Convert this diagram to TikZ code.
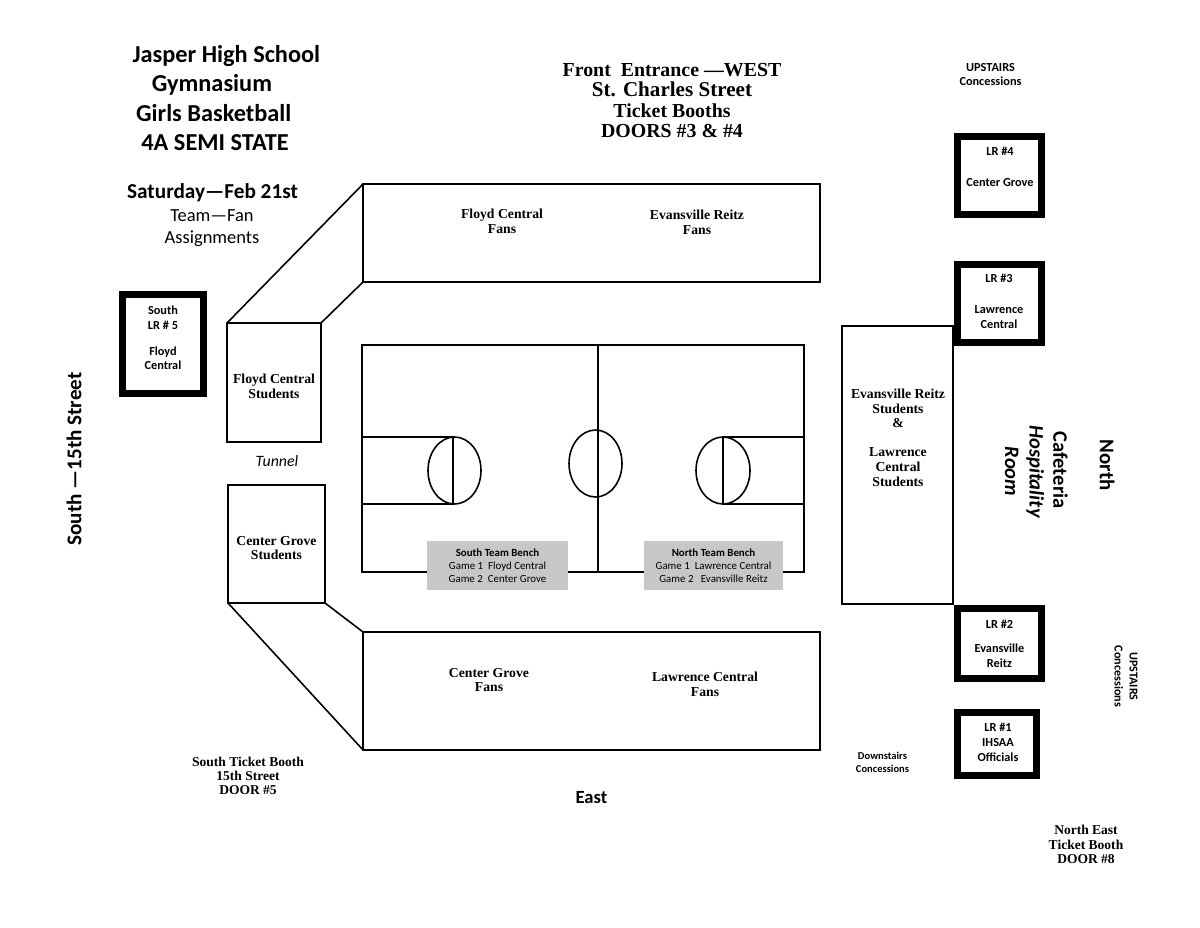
\documentclass[tikz,border=0pt]{standalone}
\usepackage{fontspec}
\setmainfont{Carlito}
\newfontfamily\timesbold{Liberation Serif}
\usetikzlibrary{positioning,shapes.geometric}

\tikzset{
  stand/.style={draw,line width=0.9pt,outer sep=0pt,inner sep=0pt},
  lrroom/.style={draw,line width=4pt,outer sep=0pt,inner sep=0pt},
  lrtext/.style={align=center,inner sep=0pt,font=\fontsize{7}{8.5}\selectfont\bfseries},
  bench/.style={fill=black!22,outer sep=0pt,inner sep=0pt,align=center,minimum height=0.98cm,
    font=\fontsize{6.2}{7.3}\selectfont},
  fans/.style={align=center,font=\fontsize{7.8}{8.4}\selectfont\timesbold\bfseries},
  booth/.style={align=center,font=\fontsize{7.7}{8.1}\selectfont\timesbold\bfseries},
  courtline/.style={line width=0.9pt},
  sidetext/.style={align=center,rotate=-90}
}

\begin{document}
\begin{tikzpicture}[x=0.02cm,y=-0.02cm]
  \useasboundingbox (0,0) rectangle (1200,927);

  % headings
  \node[align=left,font=\fontsize{13.85}{16.7}\selectfont\bfseries,anchor=north west,inner sep=0pt] (title1) at (127,45) {\hspace{3pt}Jasper High School\\\hspace{14pt}Gymnasium\\\hspace{5pt}Girls Basketball\\\hspace{8pt}4A SEMI STATE};
  \node[font=\fontsize{12.1}{13}\selectfont\bfseries] (date) at (212.5,193) {Saturday---Feb 21st};
  \node[align=center,font=\fontsize{10.5}{12.4}\selectfont] (assign) at (212,228) {Team---Fan\\Assignments};
  \node[align=center,font=\fontsize{11.3}{11.7}\selectfont\timesbold\bfseries] (front) at (672,100.5) {Front\ \ Entrance —WEST\\{\fontsize{12}{11.7}\selectfont St. Charles Street\hspace*{5pt}}\\Ticket Booths\\DOORS \#3 \& \#4};
  \node[align=center,font=\fontsize{7}{8.5}\selectfont\bfseries] (upstairs1) at (990.5,74.5) {UPSTAIRS\\Concessions};

  % stands
  \node[stand,minimum width=9.14cm,minimum height=1.96cm] (topstand) at (591.5,233) {};
  \node[stand,minimum width=9.14cm,minimum height=2.36cm] (botstand) at (591.5,691) {};
  \node[stand,minimum width=1.88cm,minimum height=2.38cm] (floydstud) at (274,382.5) {};
  \node[stand,minimum width=1.94cm,minimum height=2.36cm] (grovestud) at (276.5,544) {};
  \node[stand,minimum width=2.22cm,minimum height=5.56cm] (reitzstud) at (897.5,465) {};
  \draw[line width=0.9pt] (floydstud.north west) -- (topstand.north west);
  \draw[line width=0.9pt] (floydstud.north east) -- (topstand.south west);
  \draw[line width=0.9pt] (grovestud.south east) -- (botstand.north west);
  \draw[line width=0.9pt] (grovestud.south west) -- (botstand.south west);

  \node[fans] (fan1) at (502,221) {Floyd Central\\Fans};
  \node[fans] (fan2) at (697,222) {Evansville Reitz\\Fans};
  \node[fans] (fan3) at (489,680) {Center Grove\\Fans};
  \node[fans] (fan4) at (705,684) {Lawrence Central\\Fans};
  \node[fans] (fan5) at (274,386.5) {Floyd Central\\Students};
  \node[fans] (fan6) at (276.5,548) {Center Grove\\Students};
  \node[fans] (fan7) at (898,437.5) {Evansville Reitz\\Students\\\&\\[8pt]Lawrence\\Central\\Students};
  \node[font=\fontsize{9}{10}\selectfont\itshape] (tunnel) at (277,461) {Tunnel};

  % court
  \node[draw,line width=1.2pt,outer sep=0pt,inner sep=0pt,minimum width=8.84cm,minimum height=4.54cm] (court) at (583,458.5) {};
  \coordinate (midtop) at (598,345);
  \coordinate (midbot) at (598,572);
  \draw[courtline] (midtop) -- (midbot);
  \node[draw,courtline,ellipse,inner sep=0pt,minimum width=1.06cm,minimum height=1.34cm] (centercircle) at (595.5,463.5) {};
  \draw[courtline,line width=1.2pt] (362,437) rectangle (453,504);
  \draw[courtline] (454.5,470.5) ellipse (26.5 and 33.5);
  \draw[courtline,line width=1.2pt] (804,437) -- (723,437) -- (723,504) -- (804,504);
  \draw[courtline] (723,470.5) ellipse (27 and 33.5);

  \node[bench,minimum width=2.82cm] (southbench) at (497.5,565.5) {\textbf{South Team Bench}\\Game 1\ \ Floyd Central\\Game 2\ \ Center Grove};
  \node[bench,minimum width=2.78cm] (northbench) at (713.5,565.5) {\textbf{North Team Bench}\\Game 1\ \ Lawrence Central\\Game 2\ \ \ Evansville Reitz};

  % locker rooms
  \node[lrroom,minimum width=1.68cm,minimum height=1.56cm] (lr4) at (999.5,175.5) {};
  \node[lrroom,minimum width=1.68cm,minimum height=1.56cm] (lr3) at (999.5,303.5) {};
  \node[lrroom,minimum width=1.68cm,minimum height=1.40cm] (lr2) at (999.5,643.5) {};
  \node[lrroom,minimum width=1.58cm,minimum height=1.26cm] (lr1) at (997,744) {};
  \node[lrroom,minimum width=1.62cm,minimum height=1.98cm] (lr5) at (163,344) {};
  \node[lrtext] (lr4text) at (1000,167) {LR \#4\\[9pt]Center Grove};
  \node[lrtext] (lr3text) at (999,301) {LR\ \#3\\[9pt]Lawrence\\Central};
  \node[lrtext] (lr2text) at (999.5,644) {LR\ \#2\\[5pt]Evansville\\Reitz};
  \node[lrtext] (lr1text) at (998,742.5) {LR\ \#1\\IHSAA\\Officials};
  \node[lrtext] (lr5text) at (163,338) {South\\LR \# 5\\[6pt]Floyd\\Central};

  % side labels
  \node[sidetext,font=\fontsize{11.9}{12}\selectfont\bfseries] (north) at (1107,465) {North};
  \node[sidetext,font=\fontsize{11.7}{12}\selectfont\bfseries] (cafeteria) at (1060.5,470) {Cafeteria};
  \node[sidetext,font=\fontsize{11.7}{14}\selectfont\bfseries\itshape] (hospitality) at (1024.5,471.5) {Hospitality\\Room};
  \node[rotate=90,font=\fontsize{12}{13}\selectfont\bfseries] (southst) at (74,459) {South ---15th Street};
  \node[sidetext,font=\fontsize{6.9}{8.5}\selectfont\bfseries] (upstairs2) at (1126,676.5) {UPSTAIRS\\Concessions};

  % booths
  \node[booth] (southbooth) at (248,776) {South Ticket Booth\\15th Street\\DOOR \#5};
  \node[booth] (nebooth) at (1086,844.5) {North East\\Ticket Booth\\DOOR \#8};
  \node[font=\fontsize{10.6}{11}\selectfont\bfseries] (east) at (591.5,798) {East};
  \node[align=center,font=\fontsize{6}{7.4}\selectfont\bfseries] (downstairs) at (882.5,762) {Downstairs\\Concessions};
\end{tikzpicture}
\end{document}
